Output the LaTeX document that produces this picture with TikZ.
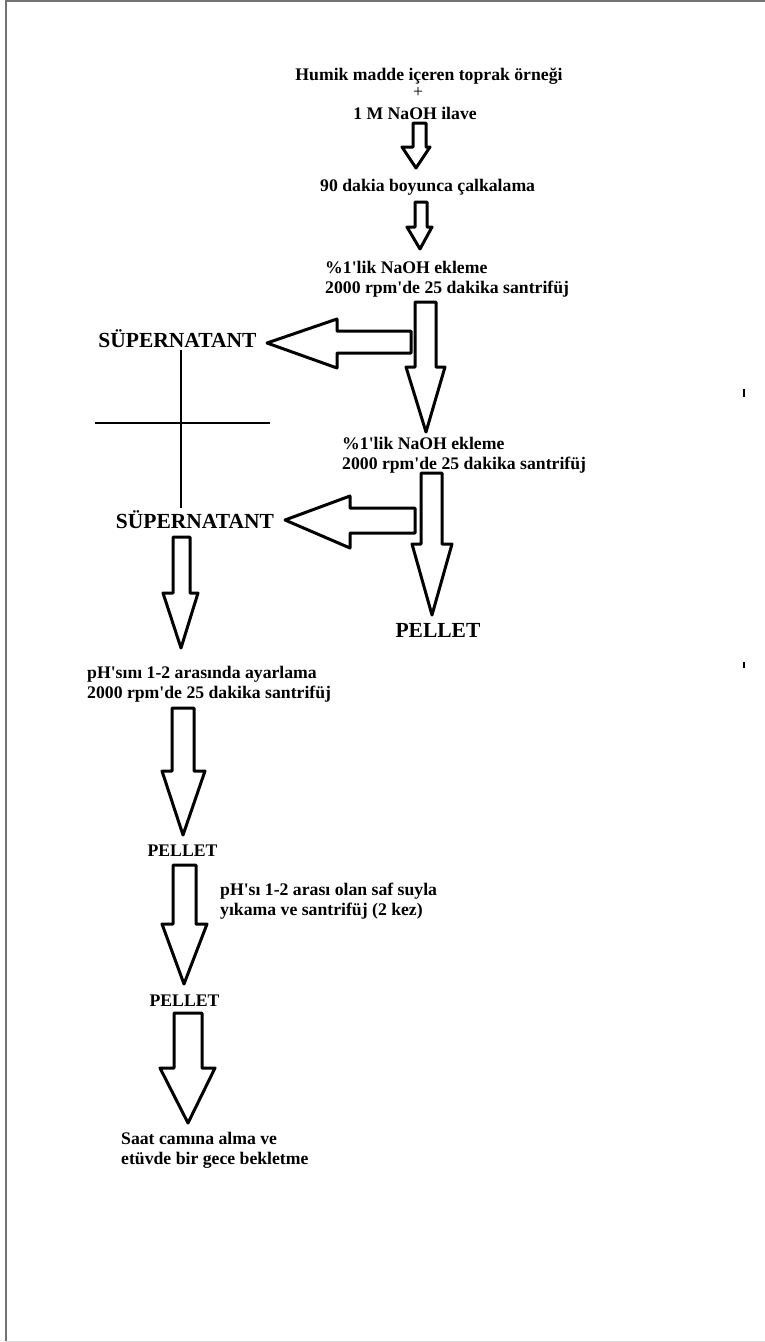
\documentclass[tikz,border=0pt]{standalone}
\usepackage{fontspec}
\setmainfont{Liberation Serif}
\newcommand{\apo}{\textquotesingle}
\tikzset{
  txt/.style={font=\bfseries\fontsize{17.7}{20}\selectfont, inner sep=0pt, align=left},
  big/.style={font=\bfseries\fontsize{21.5}{24}\selectfont, inner sep=0pt},
  blk/.style={draw, line width=3pt, line join=round, fill=white},
  crossline/.style={line width=2.5pt},
  frame/.style={draw=black!55, line width=1.5pt}
}
\begin{document}
\begin{tikzpicture}[x=1pt,y=-1pt]
\useasboundingbox (0,0) rectangle (765,1342);
% page frame
\draw[frame] (765,1) -- (6,1) -- (6,1341);
\draw[black!15, line width=1pt] (6,1341) -- (765,1341);
% stray marks
\draw[line width=2pt] (744,389) -- (744,397);
\draw[line width=2pt] (744,662) -- (744,668);

% texts
\node[txt] (h1) at (429,76) {Humik madde içeren toprak örneği};
\node[txt, font=\fontsize{17.7}{20}\selectfont] (hp) at (418,92) {+};
\node[txt] (h3) at (415,113) {1 M NaOH ilave};
\node[txt, anchor=west] (s1) at (320,187) {90 dakia boyunca çalkalama};
\node[txt, anchor=west] (s2) at (325,279.5) {\%1\apo lik NaOH ekleme\\2000 rpm\apo de 25 dakika santrifüj};
\node[big] (sup1) at (177.5,339) {SÜPERNATANT};
\node[txt, anchor=west] (s3) at (342,455.5) {\%1\apo lik NaOH ekleme\\2000 rpm\apo de 25 dakika santrifüj};
\node[big] (sup2) at (195,520) {SÜPERNATANT};
\node[big] (p1) at (438,630) {PELLET};
\node[txt, anchor=west] (s4) at (87,684) {pH\apo sını 1-2 arasında ayarlama\\2000 rpm\apo de 25 dakika santrifüj};
\node[txt] (p2) at (182.5,851) {PELLET};
\node[txt, anchor=west] (s5) at (220,901.5) {pH\apo sı 1-2 arası olan saf suyla\\yıkama ve santrifüj (2 kez)};
\node[txt] (p3) at (184.5,1001) {PELLET};
\node[txt, anchor=west] (s6) at (121,1150.5) {Saat camına alma ve\\etüvde bir gece bekletme};

% cross
\draw[crossline] (181,350) -- (181,508);
\draw[crossline] (95,423) -- (270,423);

% block arrows (down)
\draw[blk] (413,123) -- (426,123) -- (426,147) -- (430,147) -- (416,168) -- (402,147) -- (413,147) -- cycle;
\draw[blk] (415,202) -- (427,202) -- (427,227) -- (432,227) -- (420,249) -- (407,227) -- (415,227) -- cycle;
\draw[blk] (415,302) -- (436,302) -- (436,367) -- (445,367) -- (426,432) -- (406,367) -- (415,367) -- cycle;
\draw[blk] (421,473) -- (442,473) -- (442,544) -- (452,544) -- (432,615) -- (412,544) -- (421,544) -- cycle;
\draw[blk] (173,537) -- (190,537) -- (190,593) -- (198,593) -- (181,648) -- (163,593) -- (173,593) -- cycle;
\draw[blk] (172,708) -- (194,708) -- (194,771) -- (205,771) -- (183,835) -- (162,771) -- (172,771) -- cycle;
\draw[blk] (173,865) -- (196,865) -- (196,924) -- (207,924) -- (184,984) -- (162,924) -- (173,924) -- cycle;
\draw[blk] (174,1013) -- (202,1013) -- (202,1068) -- (215,1068) -- (188,1123) -- (160,1068) -- (174,1068) -- cycle;
% block arrows (left)
\draw[blk] (411,331) -- (411,353) -- (337,353) -- (337,368) -- (267,343) -- (337,319) -- (337,331) -- cycle;
\draw[blk] (415,508) -- (415,533) -- (350,533) -- (350,548) -- (285,520) -- (350,496) -- (350,508) -- cycle;
\end{tikzpicture}
\end{document}
